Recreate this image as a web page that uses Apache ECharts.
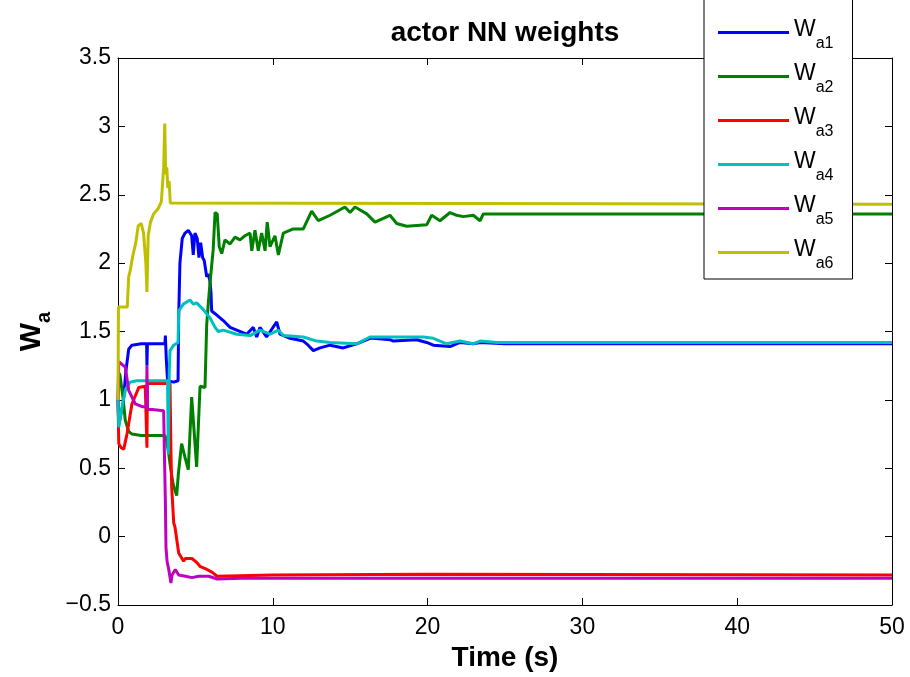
<!DOCTYPE html>
<html>
<head>
<meta charset="utf-8">
<script src="https://cdn.jsdelivr.net/npm/echarts@6/dist/echarts.min.js"></script>
<style>
html,body{margin:0;padding:0;background:#fff;}
#chart{width:910px;height:677px;}
</style>
</head>
<body>
<div id="chart"></div>
<script>
// ---- data: [time (s), weight] ----
const seriesNames = ['W_a1', 'W_a2', 'W_a3', 'W_a4', 'W_a5', 'W_a6'];
const xTicks = [0, 10, 20, 30, 40, 50];
const yTicks = [-0.5, 0, 0.5, 1, 1.5, 2, 2.5, 3, 3.5];

const wa1 = [[0,1.0],[0.05,0.82],[0.15,0.82],[0.34,0.98],[0.5,1.2],[0.69,1.37],[0.9,1.40],[1.5,1.41],[1.85,1.41],[1.87,1.25],[1.9,1.41],[2.5,1.41],[3.03,1.41],[3.06,1.47],[3.12,1.30],[3.2,1.14],[3.6,1.13],[3.88,1.14],[3.92,1.6],[4.0,2.0],[4.15,2.18],[4.33,2.22],[4.54,2.24],[4.65,2.24],[4.76,2.20],[4.86,2.06],[4.97,2.22],[5.08,2.22],[5.12,2.18],[5.23,2.04],[5.34,2.15],[5.47,2.04],[5.57,2.02],[5.73,1.90],[5.83,1.92],[5.94,1.87],[6.01,1.78],[6.05,1.65],[6.16,1.65],[6.27,1.63],[6.38,1.62],[6.8,1.58],[7.24,1.53],[7.67,1.51],[8.31,1.48],[8.74,1.53],[8.96,1.46],[9.17,1.53],[9.6,1.46],[10.25,1.57],[10.47,1.48],[11.11,1.45],[11.97,1.43],[12.19,1.41],[12.62,1.36],[13.05,1.38],[13.7,1.40],[14.55,1.38],[15.42,1.41],[16.28,1.45],[16.49,1.45],[17.57,1.44],[17.78,1.43],[19.3,1.44],[19.94,1.42],[20.37,1.40],[21.45,1.39],[22.09,1.42],[22.95,1.41],[23.4,1.42],[25,1.41],[50,1.41]];

const wa2 = [[0,1.0],[0.05,1.2],[0.13,1.18],[0.34,1.0],[0.47,0.85],[0.69,0.77],[0.9,0.75],[1.5,0.74],[2.5,0.74],[3.02,0.74],[3.1,0.72],[3.25,0.63],[3.4,0.5],[3.57,0.38],[3.79,0.30],[3.9,0.46],[4.11,0.68],[4.33,0.58],[4.54,0.49],[4.76,1.02],[5.08,0.51],[5.3,1.10],[5.62,1.09],[5.73,1.55],[5.83,1.70],[5.94,1.85],[6.15,2.1],[6.27,2.37],[6.41,2.36],[6.54,2.12],[6.7,2.07],[6.91,2.17],[7.24,2.14],[7.56,2.19],[7.88,2.17],[8.2,2.20],[8.53,2.22],[8.64,2.09],[8.85,2.24],[9.06,2.09],[9.28,2.22],[9.5,2.09],[9.64,2.30],[9.82,2.12],[10.14,2.20],[10.36,2.06],[10.68,2.22],[11.32,2.25],[11.97,2.25],[12.51,2.38],[12.94,2.31],[13.7,2.35],[14.66,2.41],[14.99,2.37],[15.31,2.41],[16.07,2.36],[16.6,2.30],[17.57,2.35],[18.0,2.29],[18.65,2.27],[19.94,2.28],[20.26,2.35],[20.8,2.31],[21.45,2.37],[21.88,2.35],[22.31,2.34],[22.95,2.35],[23.39,2.31],[23.6,2.36],[24.68,2.36],[50,2.36]];

const wa3 = [[0,1.0],[0.05,0.68],[0.2,0.65],[0.37,0.64],[0.58,0.75],[0.9,0.97],[1.34,1.09],[1.76,1.10],[1.85,1.10],[1.87,0.65],[1.9,1.12],[2.2,1.12],[3.02,1.12],[3.36,1.12],[3.42,0.63],[3.47,0.36],[3.6,0.1],[3.68,0.07],[3.92,-0.12],[4.24,-0.18],[4.35,-0.16],[4.78,-0.16],[5.1,-0.19],[5.32,-0.22],[5.75,-0.24],[6.07,-0.26],[6.4,-0.29],[6.5,-0.28],[10,-0.28],[20,-0.275],[50,-0.28]];

const wa4 = [[0,1.0],[0.05,0.80],[0.13,0.80],[0.34,1.0],[0.5,1.08],[0.78,1.13],[1.2,1.14],[2.9,1.14],[3.2,1.14],[3.25,0.60],[3.31,1.20],[3.36,1.36],[3.6,1.40],[3.88,1.42],[3.92,1.65],[4.22,1.70],[4.65,1.73],[4.86,1.70],[5.08,1.71],[5.19,1.70],[5.51,1.66],[5.94,1.60],[6.27,1.53],[6.48,1.50],[6.8,1.51],[7.67,1.48],[8.53,1.47],[9.17,1.51],[9.82,1.48],[10.36,1.51],[10.68,1.47],[11.97,1.46],[12.84,1.43],[13.7,1.42],[15.42,1.41],[16.28,1.46],[17.57,1.46],[19.72,1.46],[20.37,1.45],[21.23,1.41],[22.09,1.43],[22.95,1.41],[23.39,1.43],[24.5,1.42],[50,1.42]];

const wa5 = [[0,1.0],[0.05,1.28],[0.15,1.27],[0.47,1.24],[0.69,1.07],[1.12,0.97],[1.55,0.95],[1.85,0.95],[1.87,1.25],[1.9,0.93],[2.2,0.93],[2.95,0.92],[3.0,0.6],[3.06,0.26],[3.1,-0.08],[3.17,-0.18],[3.28,-0.24],[3.42,-0.34],[3.49,-0.28],[3.7,-0.24],[3.92,-0.28],[4.35,-0.29],[4.78,-0.30],[5.21,-0.29],[5.86,-0.29],[6.4,-0.31],[8,-0.305],[50,-0.305]];

const wa6 = [[0,1.0],[0.03,1.68],[0.6,1.68],[0.69,1.9],[0.8,1.95],[0.95,2.05],[1.15,2.15],[1.3,2.27],[1.5,2.29],[1.65,2.22],[1.8,2.0],[1.87,1.79],[1.95,2.2],[2.1,2.3],[2.3,2.36],[2.6,2.40],[2.8,2.45],[2.95,2.7],[3.02,3.02],[3.08,2.65],[3.15,2.7],[3.22,2.55],[3.3,2.6],[3.38,2.44],[3.5,2.43],[50,2.43]];

const seriesData = [wa1, wa2, wa3, wa4, wa5, wa6];
const colors = ['#0000FF', '#008000', '#FF0000', '#00BFBF', '#BF00BF', '#BFBF00'];

const FONT = '"Liberation Sans", Arial, Helvetica, sans-serif';
const chart = echarts.init(document.getElementById('chart'));

const minusFmt = v => (v < 0 ? '\u2212' + Math.abs(v) : String(v));

function axisCommon() {
  return {
    axisLine: { show: true, onZero: false, lineStyle: { color: '#000', width: 1 } },
    axisTick: { show: true, inside: true, length: 7, lineStyle: { color: '#000', width: 1 } },
    splitLine: { show: false }
  };
}

chart.setOption({
  backgroundColor: '#fff',
  animation: false,
  title: {
    text: 'actor NN weights',
    left: 500,
    textAlign: 'center',
    top: 14,
    textStyle: { fontFamily: FONT, fontSize: 28, fontWeight: 'bold', color: '#000' }
  },
  grid: { left: 118, right: 18, top: 58, bottom: 72, containLabel: false },
  legend: {
    orient: 'vertical',
    left: 704,
    top: -4,
    backgroundColor: '#fff',
    borderColor: '#000',
    borderWidth: 1,
    borderRadius: 0,
    padding: [22, 19, 7, 14],
    itemWidth: 71,
    itemHeight: 3,
    itemGap: 10,
    icon: 'rect',
    z: 10,
    data: seriesNames,
    formatter: name => '{w|W}{s|' + name.split('_')[1] + '}',
    textStyle: {
      fontFamily: FONT,
      color: '#000',
      rich: {
        w: { fontFamily: FONT, fontSize: 23, padding: [5, 0, 0, 0], verticalAlign: 'top', color: '#000' },
        s: { fontFamily: FONT, fontSize: 16, padding: [23, 0, 0, 0], verticalAlign: 'bottom', color: '#000' }
      }
    }
  },
  xAxis: [
    Object.assign(axisCommon(), {
      type: 'value', min: xTicks[0], max: xTicks[xTicks.length - 1], interval: 10,
      position: 'bottom',
      name: 'Time (s)', nameLocation: 'middle', nameGap: 38,
      nameTextStyle: { fontFamily: FONT, fontSize: 28, fontWeight: 'bold', color: '#000' },
      axisLabel: { show: true, margin: 11, fontFamily: FONT, fontSize: 23, color: '#000' }
    }),
    Object.assign(axisCommon(), {
      type: 'value', min: xTicks[0], max: xTicks[xTicks.length - 1], interval: 10,
      position: 'top', axisLabel: { show: false }
    })
  ],
  yAxis: [
    Object.assign(axisCommon(), {
      type: 'value', min: yTicks[0], max: yTicks[yTicks.length - 1], interval: 0.5,
      position: 'left',
      name: '{w|W}{s|a}', nameLocation: 'middle', nameGap: 62, nameRotate: 90,
      nameTextStyle: {
        fontFamily: FONT, color: '#000',
        rich: {
          w: { fontFamily: FONT, fontSize: 30, fontWeight: 'bold', verticalAlign: 'top', color: '#000' },
          s: { fontFamily: FONT, fontSize: 20, fontWeight: 'bold', padding: [18, 0, 0, 0], verticalAlign: 'bottom', color: '#000' }
        }
      },
      axisLabel: { show: true, margin: 7, fontFamily: FONT, fontSize: 23, color: '#000', formatter: minusFmt }
    }),
    Object.assign(axisCommon(), {
      type: 'value', min: yTicks[0], max: yTicks[yTicks.length - 1], interval: 0.5,
      position: 'right', axisLabel: { show: false }
    })
  ],
  series: seriesNames.map((n, i) => ({
    name: n,
    type: 'line',
    xAxisIndex: 0,
    yAxisIndex: 0,
    data: seriesData[i],
    showSymbol: false,
    symbol: 'none',
    color: colors[i],
    lineStyle: { color: colors[i], width: 3 },
    z: 2 + i
  }))
});
</script>
</body>
</html>
